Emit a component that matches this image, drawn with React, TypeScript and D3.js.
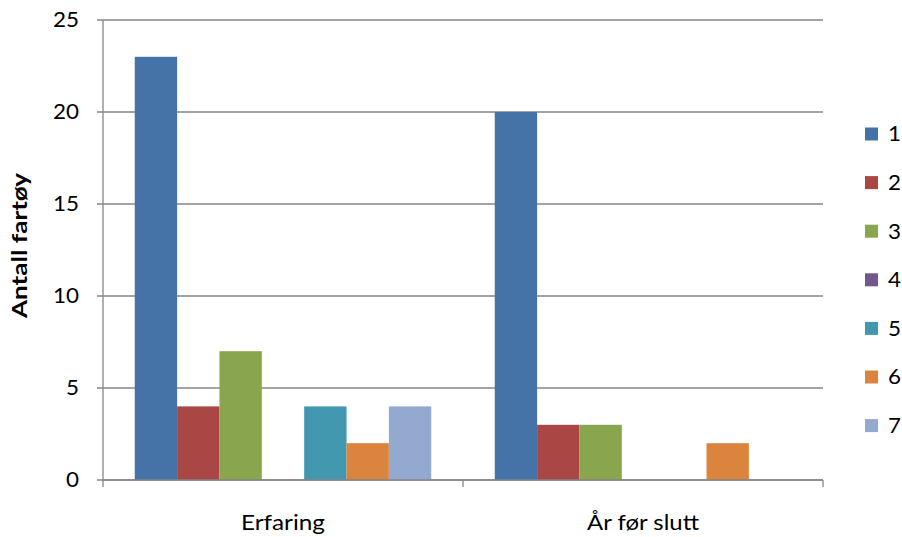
import React from 'react';
import * as d3 from 'd3';

const categories = ['Erfaring', 'År før slutt'];
const categoryLabelWidths = [84, 112];
const seriesNames = ['1', '2', '3', '4', '5', '6', '7'];
// values[series][category]
const values = [
  [23, 20],
  [4, 3],
  [7, 3],
  [0, 0],
  [4, 0],
  [2, 2],
  [4, 0],
];
const colors = ['#4572A7', '#AA4643', '#89A54E', '#71588F', '#4198AF', '#DB843D', '#93A9CF'];
const yTicks = [0, 5, 10, 15, 20, 25];

const width = 902;
const height = 537;
const margin = { top: 20, right: 79, bottom: 57, left: 103 };
const innerWidth = width - margin.left - margin.right;
const innerHeight = height - margin.top - margin.bottom;
const font = 'Lato, Carlito, Calibri, sans-serif';
const digitWidth = 13;

export default function App() {
  const x0 = d3.scaleBand().domain(categories).range([0, innerWidth]);
  const band = x0.bandwidth();
  // Excel gap width 150%: 7 bars + 1.5 bar widths of gap per category
  const barW = band / 8.5;
  const x1 = d3
    .scaleBand()
    .domain(seriesNames)
    .range([barW * 0.75, band - barW * 0.75]);
  const y = d3.scaleLinear().domain([0, 25]).range([innerHeight, 0]);
  const grid = '#868686';

  return (
    <svg
      width={width}
      height={height}
      style={{ position: 'absolute', left: 0, top: 0, background: '#fff' }}
      fontFamily={font}
    >
      <g transform={`translate(${margin.left},${margin.top})`}>
        {yTicks.map((t) => (
          <g key={t}>
            <line x1={-6} x2={innerWidth} y1={y(t)} y2={y(t)} stroke={grid} strokeWidth={1.3} />
            <text
              x={-24}
              y={y(t)}
              dy="0.36em"
              textAnchor="end"
              fontSize={20.5}
              fill="#000"
              textLength={String(t).length * digitWidth}
              lengthAdjust="spacingAndGlyphs"
            >
              {t}
            </text>
          </g>
        ))}
        {categories.map((c, ci) =>
          seriesNames.map((s, si) => {
            const v = values[si][ci];
            if (!v) return null;
            return (
              <rect
                key={`${c}-${s}`}
                x={(x0(c) ?? 0) + (x1(s) ?? 0)}
                y={y(v)}
                width={x1.bandwidth()}
                height={y(0) - y(v)}
                fill={colors[si]}
              />
            );
          })
        )}
        <line x1={0} x2={0} y1={0} y2={innerHeight} stroke={grid} strokeWidth={1.3} />
        <line x1={0} x2={innerWidth} y1={innerHeight} y2={innerHeight} stroke={grid} strokeWidth={1.3} />
        {[0, ...categories.map((c) => (x0(c) ?? 0) + band)].map((xv, i) => (
          <line key={i} x1={xv} x2={xv} y1={innerHeight} y2={innerHeight + 7} stroke={grid} strokeWidth={1.3} />
        ))}
        {categories.map((c, i) => (
          <text
            key={c}
            x={(x0(c) ?? 0) + band / 2 - categoryLabelWidths[i] / 2}
            y={innerHeight + 50}
            fontSize={20.5}
            fill="#000"
            textLength={categoryLabelWidths[i]}
            lengthAdjust="spacingAndGlyphs"
          >
            {c}
          </text>
        ))}
      </g>
      <text
        transform={`translate(27,318) rotate(-90)`}
        fontSize={20}
        fontWeight="bold"
        fill="#000"
        textLength={145}
        lengthAdjust="spacingAndGlyphs"
      >
        Antall fartøy
      </text>
      <g>
        {seriesNames.map((s, i) => (
          <g key={s} transform={`translate(865,${134 + i * 48.6})`}>
            <rect x={0} y={-6.5} width={13} height={13} fill={colors[i]} />
            <text
              x={23}
              y={0}
              dy="0.36em"
              fontSize={20.5}
              fill="#000"
              textLength={digitWidth}
              lengthAdjust="spacingAndGlyphs"
            >
              {s}
            </text>
          </g>
        ))}
      </g>
    </svg>
  );
}
